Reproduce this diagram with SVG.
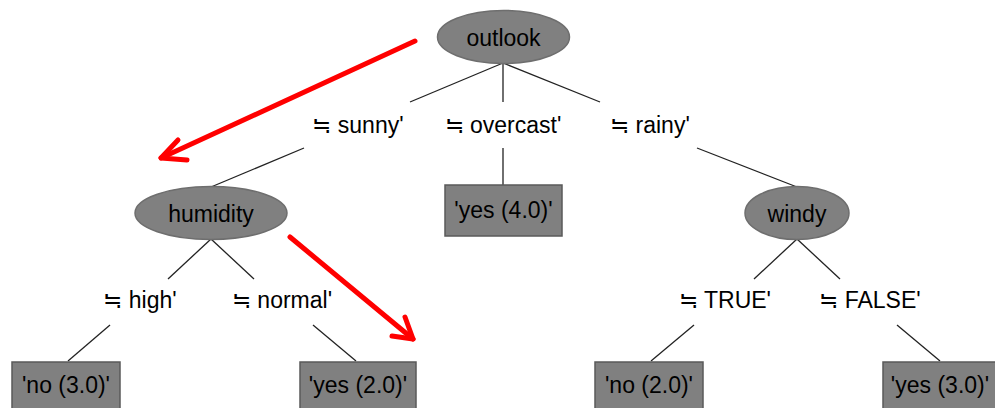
<svg xmlns="http://www.w3.org/2000/svg" width="995" height="408" viewBox="0 0 995 408">
<style>
.n{fill:#808080;stroke:#6e6e6e;stroke-width:1.5}
.b{fill:#808080;stroke:#5a5a5a;stroke-width:1.5}
.t{font-family:"Liberation Sans",Arial,sans-serif;font-size:23px;fill:#000;text-anchor:middle}
.e{stroke:#222;stroke-width:1.3;fill:none}
.r{stroke:#ff0000;stroke-width:5;fill:none;stroke-linecap:round;stroke-linejoin:round}
</style>
<rect width="995" height="408" fill="#fff"/>
<g id="connectors">
<line class="e" x1="503" y1="63" x2="410" y2="102"/>
<line class="e" x1="503" y1="63" x2="503" y2="102"/>
<line class="e" x1="503" y1="63" x2="600" y2="102"/>
<line class="e" x1="304" y1="148" x2="211" y2="187"/>
<line class="e" x1="503" y1="148" x2="503" y2="185"/>
<line class="e" x1="697" y1="148" x2="797" y2="187"/>
<line class="e" x1="211" y1="239" x2="168" y2="279"/>
<line class="e" x1="211" y1="239" x2="254" y2="279"/>
<line class="e" x1="797" y1="239" x2="754" y2="279"/>
<line class="e" x1="797" y1="239" x2="840" y2="279"/>
<line class="e" x1="110" y1="325" x2="68" y2="361"/>
<line class="e" x1="313" y1="325" x2="356" y2="361"/>
<line class="e" x1="694" y1="325" x2="651" y2="361"/>
<line class="e" x1="897" y1="325" x2="940" y2="361"/>
<text class="t" x="358" y="133">≒ sunny'</text>
<text class="t" x="503" y="133">≒ overcast'</text>
<text class="t" x="650" y="133">≒ rainy'</text>
<text class="t" x="140" y="308">≒ high'</text>
<text class="t" x="282" y="308">≒ normal'</text>
<text class="t" x="725" y="308">≒ TRUE'</text>
<text class="t" x="870" y="308">≒ FALSE'</text>
</g>
<g id="outlook"><ellipse class="n" cx="503.5" cy="37" rx="66" ry="26.5"/><text class="t" x="503.5" y="46">outlook</text></g>
<g id="humidity"><ellipse class="n" cx="211" cy="213" rx="76" ry="26.5"/><text class="t" x="211" y="222">humidity</text></g>
<g id="windy"><ellipse class="n" cx="797" cy="213" rx="52" ry="26.5"/><text class="t" x="797" y="222">windy</text></g>
<g id="yes40"><rect class="b" x="445" y="185" width="117" height="51"/><text class="t" x="503.5" y="218">'yes (4.0)'</text></g>
<g id="no30"><rect class="b" x="12" y="362" width="108" height="50"/><text class="t" x="66" y="393">'no (3.0)'</text></g>
<g id="yes20"><rect class="b" x="300" y="362" width="116" height="50"/><text class="t" x="358" y="393">'yes (2.0)'</text></g>
<g id="no20"><rect class="b" x="595" y="362" width="108" height="50"/><text class="t" x="649" y="393">'no (2.0)'</text></g>
<g id="yes30"><rect class="b" x="883" y="362" width="116" height="50"/><text class="t" x="940" y="393">'yes (3.0)'</text></g>
<g id="annotations">
<polyline class="r" points="415,41 161,158"/>
<polyline class="r" points="178,140 161,158 187,160"/>
<polyline class="r" points="290,237 413,339"/>
<polyline class="r" points="405,317 413,339 392,336"/>
</g>
</svg>
